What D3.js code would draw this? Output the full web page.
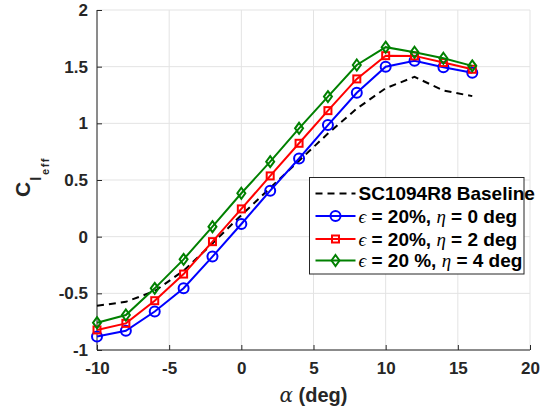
<!DOCTYPE html>
<html>
<head>
<meta charset="utf-8">
<script src="https://cdn.jsdelivr.net/npm/d3@7"></script>
<style>
  body { margin: 0; background: #fff; }
  svg { display: block; font-family: "Liberation Sans", Arial, sans-serif; }
  .grid line { stroke: #e3e3e3; stroke-width: 1; }
  .axis path, .axis line { stroke: #262626; }
  .axis text { fill: #262626; font-size: 17px; font-weight: bold; }
</style>
</head>
<body>
<div id="chart"></div>
<script>
// data
var alphaVals = [-10, -8, -6, -4, -2, 0, 2, 4, 6, 8, 10, 12, 14, 16];
var baselineVals = [-0.61, -0.575, -0.48, -0.30, -0.06, 0.19, 0.43, 0.67, 0.91, 1.13, 1.31, 1.41, 1.29, 1.24];
var eta0Vals = [-0.88, -0.83, -0.66, -0.455, -0.176, 0.112, 0.406, 0.69, 0.985, 1.27, 1.50, 1.553, 1.495, 1.447];
var eta2Vals = [-0.823, -0.765, -0.565, -0.33, -0.044, 0.245, 0.536, 0.824, 1.112, 1.392, 1.597, 1.595, 1.536, 1.477];
var eta4Vals = [-0.759, -0.691, -0.456, -0.2, 0.088, 0.383, 0.662, 0.956, 1.236, 1.515, 1.672, 1.627, 1.574, 1.507];
var xTicks = [-10, -5, 0, 5, 10, 15, 20];
var yTicks = [-1, -0.5, 0, 0.5, 1, 1.5, 2];
var seriesNames = ["baseline", "eta0", "eta2", "eta4"];

var myApp = {};
myApp.width = 547;
myApp.height = 413;
myApp.margins = {top: 10, bottom: 63, left: 97, right: 17};
myApp.cw = myApp.width - myApp.margins.left - myApp.margins.right;
myApp.ch = myApp.height - myApp.margins.top - myApp.margins.bottom;

myApp.series = [
  {name: seriesNames[0], vals: baselineVals, color: "#000000", dash: "7,5", marker: null},
  {name: seriesNames[1], vals: eta0Vals, color: "#0000ff", dash: null, marker: "circle"},
  {name: seriesNames[2], vals: eta2Vals, color: "#ff0000", dash: null, marker: "square"},
  {name: seriesNames[3], vals: eta4Vals, color: "#008000", dash: null, marker: "diamond"}
];

// matlab style tick text: plain hyphen for negatives
myApp.fmt = function (d) {
  return String(d).replace("\u2212", "-");
}

myApp.drawMarker = function (g, type, color) {
  if (type === "circle") {
    g.append("circle").attr("r", 5)
      .attr("fill", "none").attr("stroke", color).attr("stroke-width", 2);
  } else if (type === "square") {
    g.append("rect").attr("x", -3.5).attr("y", -3.5).attr("width", 7).attr("height", 7)
      .attr("fill", "none").attr("stroke", color).attr("stroke-width", 2);
  } else if (type === "diamond") {
    g.append("path").attr("d", "M0,-5.5L4,0L0,5.5L-4,0Z")
      .attr("fill", "none").attr("stroke", color).attr("stroke-width", 2);
  }
}

myApp.run = function () {
  var svg = d3.select("#chart").append("svg")
    .attr("width", myApp.width)
    .attr("height", myApp.height);

  var chart = svg.append("g")
    .attr("transform", "translate(" + myApp.margins.left + "," + myApp.margins.top + ")");

  var x = d3.scaleLinear().domain([-10, 20]).range([0, myApp.cw]);
  var y = d3.scaleLinear().domain([-1, 2]).range([myApp.ch, 0]);

  // grid
  var grid = chart.append("g").attr("class", "grid");
  grid.selectAll(".gx").data(xTicks).enter().append("line")
    .attr("x1", d => x(d)).attr("x2", d => x(d))
    .attr("y1", 0).attr("y2", myApp.ch);
  grid.selectAll(".gy").data(yTicks).enter().append("line")
    .attr("x1", 0).attr("x2", myApp.cw)
    .attr("y1", d => y(d)).attr("y2", d => y(d));

  // axes (ticks point inward like matlab)
  var xAxis = d3.axisBottom(x).tickValues(xTicks).tickSize(-5).tickPadding(12).tickFormat(myApp.fmt);
  var yAxis = d3.axisLeft(y).tickValues(yTicks).tickSize(-5).tickPadding(9).tickFormat(myApp.fmt);

  var gx = chart.append("g").attr("class", "axis")
    .attr("transform", "translate(0," + myApp.ch + ")")
    .call(xAxis);
  gx.select(".domain").attr("d", "M0,0H" + myApp.cw);
  gx.selectAll("text").attr("dy", "0.71em");

  var gy = chart.append("g").attr("class", "axis").call(yAxis);
  gy.select(".domain").attr("d", "M0," + myApp.ch + "V0");

  // lines
  var line = d3.line()
    .x((d, i) => x(alphaVals[i]))
    .y(d => y(d));

  myApp.series.forEach(function (s) {
    chart.append("path")
      .attr("d", line(s.vals))
      .attr("fill", "none")
      .attr("stroke", s.color)
      .attr("stroke-width", 2)
      .attr("stroke-dasharray", s.dash);
    if (s.marker) {
      chart.selectAll(".m-" + s.name).data(s.vals).enter().append("g")
        .attr("class", "m-" + s.name)
        .attr("transform", (d, i) => "translate(" + x(alphaVals[i]) + "," + y(d) + ")")
        .each(function () { myApp.drawMarker(d3.select(this), s.marker, s.color); });
    }
  });

  // axis labels
  var xl = svg.append("text")
    .attr("x", myApp.margins.left + myApp.cw / 2)
    .attr("y", 402)
    .attr("text-anchor", "middle")
    .attr("fill", "#262626")
    .style("font-size", "20px");
  xl.append("tspan").attr("font-family", "'DejaVu Serif', serif").attr("font-style", "italic").text("α");
  xl.append("tspan").attr("font-weight", "bold").text(" (deg)");

  var yl = svg.append("text")
    .attr("transform", "translate(30,197) rotate(-90)")
    .attr("fill", "#262626")
    .attr("font-weight", "bold");
  yl.append("tspan").style("font-size", "21px").text("C");
  yl.append("tspan").style("font-size", "14px").attr("dx", 1).attr("dy", 11).text("l");
  yl.append("tspan").style("font-size", "11px").style("letter-spacing", "1.5px").attr("dx", 2).attr("dy", 8).text("eff");

  // legend
  var lg = svg.append("g").attr("transform", "translate(309.5,177.5)");
  lg.append("rect").attr("width", 214.5).attr("height", 96.5)
    .attr("fill", "#fff").attr("stroke", "#262626").attr("stroke-width", 1);
  var labels = [
    [{t: "SC1094R8 Baseline"}],
    [{t: "ϵ", it: true}, {t: " = 20%, "}, {t: "η", it: true}, {t: " = 0 deg"}],
    [{t: "ϵ", it: true}, {t: " = 20%, "}, {t: "η", it: true}, {t: " = 2 deg"}],
    [{t: "ϵ", it: true}, {t: " = 20 %, "}, {t: "η", it: true}, {t: " = 4 deg"}]
  ];
  var rowY = [16, 38.5, 61.5, 83];
  myApp.series.forEach(function (s, i) {
    var row = lg.append("g").attr("transform", "translate(0," + rowY[i] + ")");
    row.append("line").attr("x1", 6).attr("x2", 46)
      .attr("stroke", s.color).attr("stroke-width", 2)
      .attr("stroke-dasharray", s.dash);
    if (s.marker) {
      var mg = row.append("g").attr("transform", "translate(26,0)");
      myApp.drawMarker(mg, s.marker, s.color);
    }
    var tx = row.append("text").attr("x", 49).attr("dy", "0.36em")
      .attr("fill", "#000").style("font-size", "19px").attr("font-weight", "bold");
    labels[i].forEach(function (p) {
      var ts = tx.append("tspan").text(p.t);
      if (p.it) ts.attr("font-family", "'Liberation Serif', serif").attr("font-style", "italic").attr("font-weight", "normal");
    });
  });
}

window.onload = myApp.run;
</script>
</body>
</html>
